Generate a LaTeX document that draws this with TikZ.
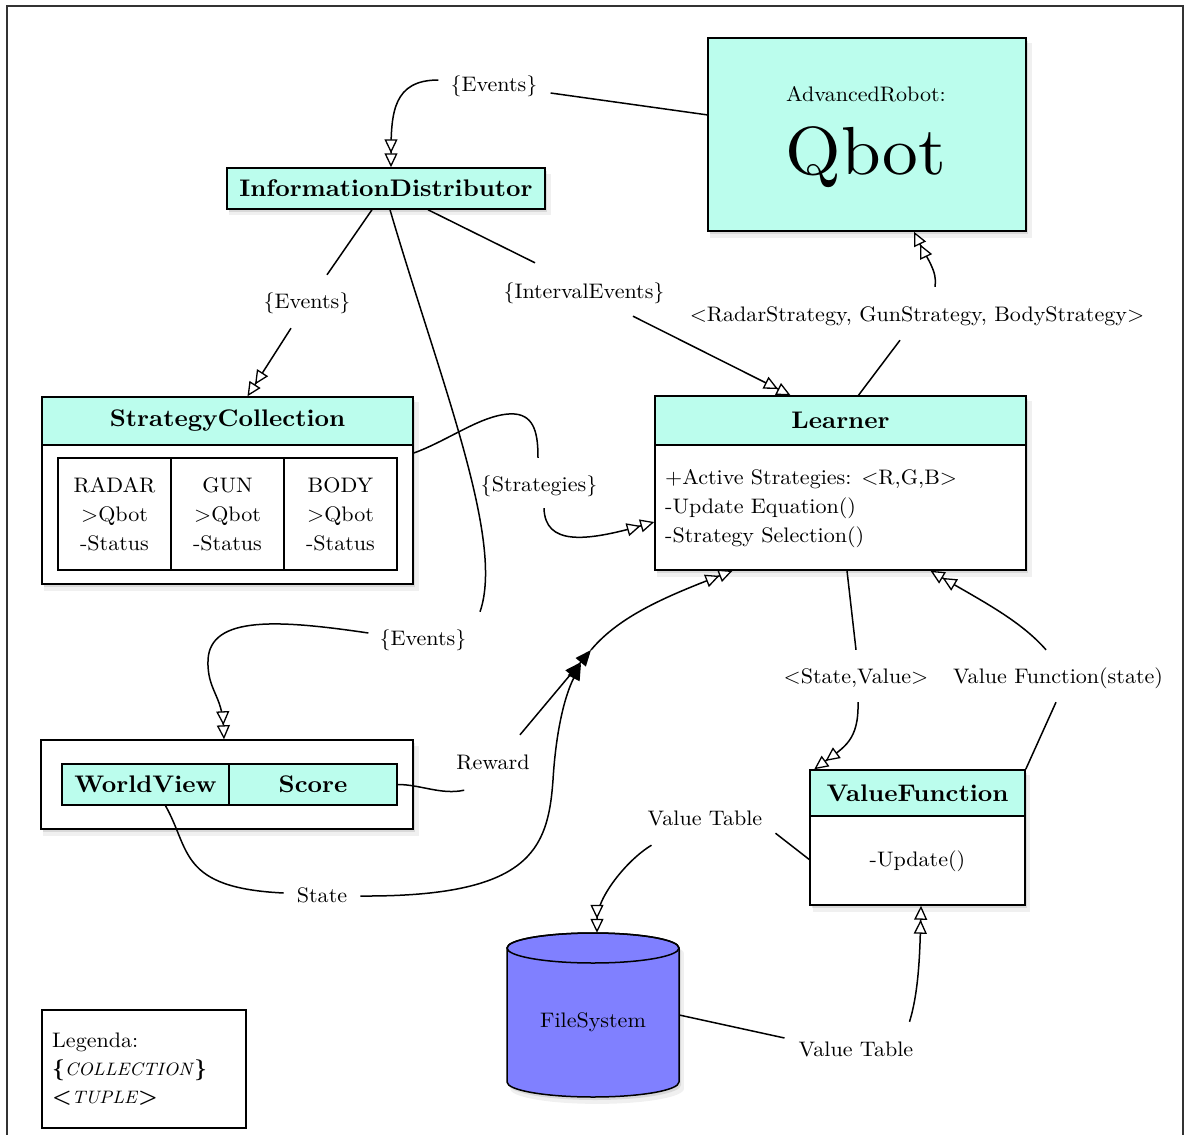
\documentclass[tikz,border=0pt]{standalone}
\usepackage{fontspec}
\setmainfont{lmroman10-regular.otf}[BoldFont=lmroman10-bold.otf, ItalicFont=lmroman10-italic.otf, BoldItalicFont=lmroman10-bolditalic.otf, FakeStretch=1.05]
\usetikzlibrary{arrows.meta,shadows}
\definecolor{aqua}{RGB}{187,253,237}
\definecolor{cylc}{RGB}{128,128,255}
\newcommand\lblf{\fontsize{21}{25}\selectfont}
\newcommand\hdrf{\fontsize{24}{28}\selectfont\bfseries}
\begin{document}
\begin{tikzpicture}[x=1pt,y=-1pt,
  box/.style={draw, line width=1.5pt, inner sep=0pt},
  shad/.style={drop shadow={opacity=0.12,shadow xshift=4pt,shadow yshift=-6pt,shadow scale=1.01},
               drop shadow={opacity=0.2,shadow xshift=2pt,shadow yshift=-3pt}},
  lbl/.style={font=\lblf, inner sep=3pt, text height=15pt, text depth=5pt},
  conn/.style={line width=1.5pt},
  oarr/.style={-{Triangle[fill=white,length=14pt,width=13pt,line width=1.3pt]Triangle[fill=white,length=14pt,width=13pt,line width=1.3pt]}},
  farr/.style={-{Triangle[length=16pt,width=13pt]}},
  ffarr/.style={-{Triangle[length=16pt,width=13pt]Triangle[length=16pt,width=13pt]}},
]
\useasboundingbox (0,0) rectangle (1184,1135);
\draw[line width=1.6pt, black!80] (7,1140) -- (7,6) -- (1183,6) -- (1183,1140);

% Qbot
\node[box, shad, fill=aqua, minimum width=318pt, minimum height=193pt] (qbot) at (867,134.5) {};
\node[font=\lblf, anchor=base] (advr) at (866,101) {AdvancedRobot:};
\node[font=\fontsize{68}{68}\selectfont, anchor=base] (qbottxt) at (866,174) {Qbot};

% InformationDistributor
\node[box, shad, fill=aqua, minimum width=318pt, minimum height=41pt, font=\hdrf] (id) at (386,188.5) {InformationDistributor};

% StrategyCollection
\node[box, shad, fill=white, minimum width=371pt, minimum height=187pt] (sc) at (227.5,490.5) {};
\node[box, fill=aqua, minimum width=371pt, minimum height=48pt, font=\hdrf] (sch) at (227.5,421) {StrategyCollection};
\node[box, minimum width=113pt, minimum height=112pt, align=center, font=\fontsize{21}{29}\selectfont] (radar) at (114.5,514) {RADAR\\>Qbot\\-Status};
\node[box, minimum width=113pt, minimum height=112pt, align=center, font=\fontsize{21}{29}\selectfont] (gun) at (227.5,514) {GUN\\>Qbot\\-Status};
\node[box, minimum width=113pt, minimum height=112pt, align=center, font=\fontsize{21}{29}\selectfont] (body) at (340.5,514) {BODY\\>Qbot\\-Status};

% Learner
\node[box, shad, fill=white, minimum width=371pt, minimum height=174pt] (ln) at (840.5,483) {};
\node[box, fill=aqua, minimum width=371pt, minimum height=49pt, font=\hdrf] (lnh) at (840.5,420.5) {Learner};
\node[anchor=west, align=left, inner sep=0pt, font=\fontsize{21}{29}\selectfont] (lnt) at (665,509) {+Active Strategies: <R,G,B>\\-Update Equation()\\-Strategy Selection()};

% WorldView
\node[box, shad, fill=white, minimum width=372pt, minimum height=89pt] (wvo) at (227,784.5) {};
\node[box, fill=aqua, minimum width=167pt, minimum height=41pt, font=\hdrf] (wv) at (145.5,784.5) {WorldView};
\node[box, fill=aqua, minimum width=168pt, minimum height=41pt, font=\hdrf] (score) at (313,784.5) {Score};

% ValueFunction
\node[box, shad, fill=white, minimum width=215pt, minimum height=135pt] (vf) at (917.5,837.5) {};
\node[box, fill=aqua, minimum width=215pt, minimum height=46pt, font=\hdrf] (vfh) at (917.5,793) {ValueFunction};
\node[font=\lblf] (upd) at (917.5,861) {-Update()};

% FileSystem
\node[minimum width=172pt, minimum height=164pt, inner sep=0pt] (fs) at (593,1015) {};
\path[draw, line width=1.5pt, fill=cylc, shad] (507,948) -- (507,1082) arc[start angle=180,end angle=360,x radius=86pt,y radius=15pt] -- (679,948) arc[start angle=0,end angle=180,x radius=86pt,y radius=15pt] -- cycle;
\draw[line width=1.5pt] (593,948) ellipse [x radius=86pt, y radius=15pt];
\node[font=\lblf] (fstxt) at (593,1022) {FileSystem};

% Legend
\node[box, minimum width=204pt, minimum height=118pt] (leg) at (144,1069) {};
\node[anchor=west, align=left, inner sep=0pt, font=\fontsize{21}{28}\selectfont] (legt) at (52,1069) {Legenda:\\\textbf{\{}{\fontsize{18}{28}\selectfont\textit{COLLECTION}}\textbf{\}}\\\textbf{<}{\fontsize{18}{28}\selectfont\textit{TUPLE}}\textbf{>}};

% Labels
\node[lbl] (ev1) at (494,86) {\{Events\}};
\node[lbl] (ev2) at (307,303) {\{Events\}};
\node[lbl] (iev) at (584,293) {\{IntervalEvents\}};
\node[lbl] (rgb) at (917,316) {<RadarStrategy, GunStrategy, BodyStrategy>};
\node[lbl] (strat) at (539,486) {\{Strategies\}};
\node[lbl] (ev3) at (423,640) {\{Events\}};
\node[lbl] (sv) at (856,678) {<State,Value>};
\node[lbl] (vfs) at (1058,678) {Value Function(state)};
\node[lbl] (rew) at (493,764) {Reward};
\node[lbl] (vt1) at (705,820) {Value Table};
\node[lbl] (state) at (322,897) {State};
\node[lbl] (vt2) at (856,1051) {Value Table};
\coordinate (jn) at (591,650);

% Connectors
\draw[conn] (qbot.173) -- ([xshift=10pt,yshift=-7pt]ev1.east);
\draw[conn,oarr] ([xshift=-9pt,yshift=6pt]ev1.west) .. controls +(-45,0) and +(0,-55) .. ([xshift=5pt]id.north);

\draw[conn] ([xshift=-14pt]id.south) -- ([xshift=20pt,yshift=15pt]ev2.north);
\draw[conn,oarr] ([xshift=-16pt,yshift=-12pt]ev2.south) -- ([xshift=20pt]sch.north);

\draw[conn] ([xshift=42pt]id.south) -- ([xshift=-49pt,yshift=17pt]iev.north);
\draw[conn,oarr] ([xshift=49pt,yshift=-10pt]iev.south) -- ([xshift=-50pt]lnh.north);

\draw[conn] ([xshift=4pt]id.south) .. controls (440,380) and (505,540) .. ([xshift=57pt,yshift=15pt]ev3.north);
\draw[conn,oarr] ([xshift=-8pt,yshift=7pt]ev3.west) .. controls (280,620) and (210,615) .. (208,660) .. controls (207,690) and (222,695) .. ([xshift=-3pt]wvo.north);

\draw[conn] ([yshift=37.5pt]sc.east) .. controls (450,440) and (485,412) .. (515,414) .. controls (535,416) and (538,435) .. ([xshift=-1pt,yshift=15pt]strat.north);
\draw[conn,oarr] ([xshift=5pt,yshift=-9pt]strat.south) .. controls +(1,37) and +(-70,20) .. ([yshift=-39pt]ln.west);

\draw[conn] (score.east) .. controls +(23,0) and +(-23,5) .. ([xshift=11pt,yshift=-13pt]rew.south west);
\draw[conn,ffarr] ([xshift=27pt,yshift=16pt]rew.north) -- (jn);

\draw[conn] ([xshift=20pt]wv.south) .. controls +(25,44) and +(-105,-5) .. ([xshift=-10pt,yshift=4pt]state.west);
\draw[conn,farr] ([xshift=10pt,yshift=1pt]state.east) .. controls (530,897) and (548,850) .. (553,780) .. controls (556,730) and (565,695) .. ([xshift=-10pt,yshift=-14pt]jn);

\draw[conn,oarr] (jn) .. controls (620,615) and (670,595) .. ([xshift=-108pt]ln.south);

\draw[conn] ([xshift=18pt]ln.north) -- ([xshift=-17pt,yshift=-11pt]rgb.south);
\draw[conn,oarr] ([xshift=18pt,yshift=16pt]rgb.north) .. controls +(3,-15) and +(12,25) .. ([xshift=47pt]qbot.south);

\draw[conn] ([xshift=6.5pt]ln.south) -- ([yshift=15pt]sv.north);
\draw[conn,oarr] ([xshift=2pt,yshift=-11pt]sv.south) .. controls +(1,38) and +(30,-22) .. ([xshift=5pt]vfh.north west);

\draw[conn] (vfh.north east) -- ([xshift=-2pt,yshift=-11pt]vfs.south);
\draw[conn,oarr] ([xshift=-12pt,yshift=15pt]vfs.north) .. controls (1020,620) and (980,600) .. ([xshift=90pt]ln.south);

\draw[conn] ([yshift=-22pt]vf.west) -- ([xshift=10pt]vt1.south east);
\draw[conn,oarr] ([xshift=7pt,yshift=-12pt]vt1.south west) .. controls +(-25,15) and +(0,-35) .. ([xshift=4pt]fs.north);

\draw[conn] (fs.east) -- ([xshift=-11pt,yshift=13pt]vt2.west);
\draw[conn,oarr] ([xshift=-7pt,yshift=16pt]vt2.north east) .. controls +(10,-32) and +(-1,40) .. ([xshift=3.5pt]vf.south);
\end{tikzpicture}
\end{document}
